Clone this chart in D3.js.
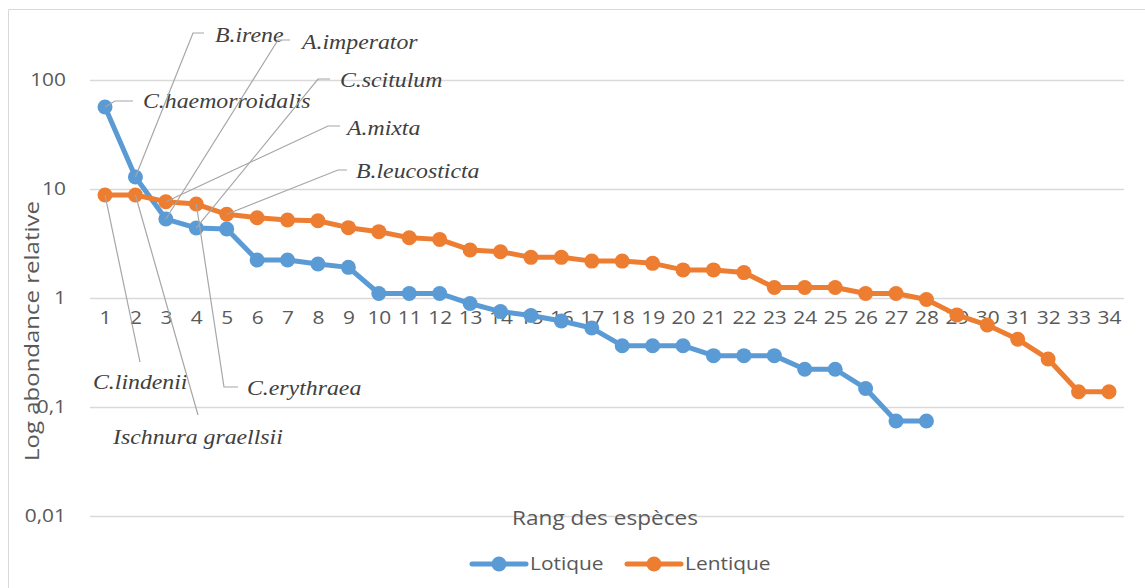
<!DOCTYPE html>
<html><head><meta charset="utf-8">
<script src="https://cdn.jsdelivr.net/npm/d3@7"></script>
<style>body{margin:0;background:#fff}svg{display:block}</style>
</head><body><svg id="c" width="1145" height="588"></svg>
<script>
// ---- data ----
const ranks = d3.range(1, 35);
const lotique = [56.5,12.9,5.3,4.39,4.3,2.23,2.23,2.05,1.91,1.10,1.10,1.10,0.89,0.75,0.69,0.615,0.53,0.365,0.365,0.365,0.296,0.296,0.296,0.222,0.222,0.148,0.0744,0.0744];
const lentique = [8.81,8.81,7.65,7.28,5.86,5.45,5.2,5.12,4.42,4.06,3.57,3.45,2.76,2.66,2.36,2.36,2.18,2.18,2.08,1.81,1.81,1.71,1.25,1.25,1.25,1.10,1.10,0.97,0.70,0.565,0.418,0.276,0.138,0.138];
const yTicks = [100, 10, 1, 0.1, 0.01];
const yTickLabels = ["100", "10", "1", "0,1", "0,01"];
const seriesNames = ["Lotique", "Lentique"];
const annotNames = ["C.haemorroidalis","B.irene","A.imperator","C.scitulum","A.mixta","B.leucosticta","C.lindenii","Ischnura graellsii","C.erythraea"];
const annotSeries = [0,0,0,0,1,1,1,1,1];
const annotRank = [1,2,3,4,3,5,1,2,4];
const xTitle = "Rang des espèces";
const yTitle = "Log abondance relative";

// ---- layout ----
const colors = ["#5B9BD5", "#ED7D31"];
const SX = 1.13; // horizontal stretch of sans text
const svg = d3.select("#c");
const x = d3.scalePoint().domain(ranks).range([89.8, 1124.2]).padding(0.5);
const y = d3.scaleLog().domain([0.01, 100]).range([516, 80]);
const font = "'Open Sans', sans-serif";

svg.append("path").attr("d", "M8.5,588V9.5H1145").attr("fill", "none").attr("stroke", "#d9d9d9");

// gridlines + y labels
const yAxis = d3.axisLeft(y).tickValues(yTicks).tickSize(-(1124 - 90))
  .tickFormat((d, i) => yTickLabels[i]).tickPadding(0);
const gy = svg.append("g").attr("transform", "translate(90,0)").call(yAxis);
gy.select(".domain").remove();
gy.selectAll(".tick line").attr("stroke", "#d9d9d9").attr("stroke-width", 1.3);
gy.selectAll(".tick text").attr("x", null).attr("transform", `translate(-24,0) scale(${SX},1)`)
  .attr("fill", "#595959").style("font-family", font).style("font-size", "18.5px");

// x axis labels at value 1
const xAxis = d3.axisBottom(x).tickSize(0).tickPadding(13);
const gx = svg.append("g").attr("transform", `translate(0,${y(1)})`).call(xAxis);
gx.select(".domain").remove();
gx.selectAll(".tick text").attr("transform", `scale(${SX},1)`)
  .attr("fill", "#595959").style("font-family", font).style("font-size", "18.5px");

// series
const allSeries = [lotique, lentique];
const line = d3.line().x((d, i) => x(ranks[i])).y(d => y(d));
allSeries.forEach((s, k) => {
  svg.append("path").datum(s).attr("d", line).attr("fill", "none")
    .attr("stroke", colors[k]).attr("stroke-width", 5).attr("stroke-linejoin", "round");
  svg.append("g").selectAll("circle").data(s).join("circle")
    .attr("cx", (d, i) => x(ranks[i])).attr("cy", d => y(d)).attr("r", 7.5)
    .attr("fill", colors[k]);
});

// annotation layout: text x,y ; leader elbow points (pixel layout)
const annotLayout = [
  {tx:143, ty:101, pts:[[133,101],[115,101]]},
  {tx:215, ty:35,  pts:[[204,33],[193,33]]},
  {tx:302, ty:42,  pts:[[290,40],[278,40]]},
  {tx:340, ty:80,  pts:[[330,79],[318,79]]},
  {tx:347, ty:128, pts:[[340,126],[328,126]]},
  {tx:356, ty:171, pts:[[347,170],[338,170]]},
  {tx:93,  ty:382, pts:[[140,362]]},
  {tx:113, ty:437, pts:[[198,415]]},
  {tx:247, ty:388, pts:[[238,387],[224,387]]}
];
const ga = svg.append("g");
annotNames.forEach((name, i) => {
  const L = annotLayout[i];
  const s = allSeries[annotSeries[i]];
  const r = annotRank[i];
  const px = x(r), py = y(s[r - 1]);
  const pts = L.pts.concat([[px, py]]);
  ga.append("path").attr("d", d3.line()(pts)).attr("fill", "none")
    .attr("stroke", "#a6a6a6").attr("stroke-width", 1.2);
  ga.append("text").attr("transform", `translate(${L.tx},${L.ty}) scale(1.19,1)`).attr("dy", "0.35em")
    .style("font-family", "'Liberation Serif', serif").style("font-style", "italic")
    .style("font-size", "20px").attr("fill", "#404040").text(name);
});

// titles
svg.append("text").attr("transform", `translate(605,518) scale(${SX},1)`).attr("dy", "0.35em").attr("text-anchor", "middle")
  .style("font-family", font).style("font-size", "20px").attr("fill", "#595959").text(xTitle);
svg.append("text").attr("transform", `translate(32,331) rotate(-90) scale(1.2,1)`).attr("dy", "0.35em")
  .attr("text-anchor", "middle").style("font-family", font).style("font-size", "20px")
  .attr("fill", "#595959").text(yTitle);

// legend
const legX = [472, 627];
seriesNames.forEach((n, k) => {
  const g = svg.append("g").attr("transform", `translate(${legX[k]},564)`);
  g.append("line").attr("x1", 0).attr("x2", 54).attr("stroke", colors[k]).attr("stroke-width", 5).attr("stroke-linecap", "round");
  g.append("circle").attr("cx", 27).attr("r", 7.5).attr("fill", colors[k]);
  g.append("text").attr("transform", `translate(58,0) scale(${SX},1)`).attr("dy", "0.35em").style("font-family", font).style("font-size", "18.5px")
    .attr("fill", "#595959").text(n);
});
</script></body></html>
